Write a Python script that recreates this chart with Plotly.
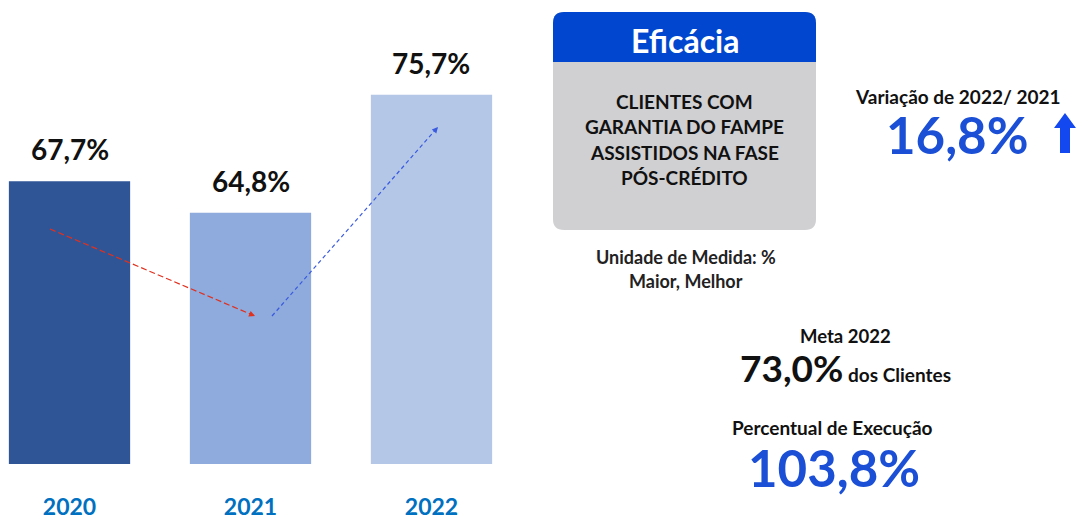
import plotly.graph_objects as go

# ---- data ----
years = ["2020", "2021", "2022"]
values = [67.7, 64.8, 75.7]
value_labels = ["67,7%", "64,8%", "75,7%"]
bar_colors = ["#2F5597", "#8FAADC", "#B4C7E7"]

W, H = 1078, 519
FONT = "Lato"


def px(x):
    return x / W


def py(y):
    return 1 - y / H


fig = go.Figure()
fig.add_trace(go.Bar(
    x=years, y=values, marker=dict(color=bar_colors, line=dict(width=0)),
    width=0.67, hoverinfo="skip", showlegend=False,
))

annotations = []
for i, (v, lab) in enumerate(zip(values, value_labels)):
    annotations.append(dict(
        x=i, y=v, xref="x", yref="y", text=f"<b>{lab}</b>", showarrow=False,
        xanchor="center", yanchor="bottom", yshift=13,
        font=dict(family=FONT, size=28, color="#111111"),
    ))

shapes = []
# rounded box (gray body + blue header)
x0, x1, y0, y1, yh, r = 553, 816, 12, 230, 62, 11


def P(x, y):
    return f"{px(x):.5f},{py(y):.5f}"


body = (f"M {P(x0 + r, y0)} L {P(x1 - r, y0)} Q {P(x1, y0)} {P(x1, y0 + r)} "
        f"L {P(x1, y1 - r)} Q {P(x1, y1)} {P(x1 - r, y1)} L {P(x0 + r, y1)} "
        f"Q {P(x0, y1)} {P(x0, y1 - r)} L {P(x0, y0 + r)} Q {P(x0, y0)} {P(x0 + r, y0)} Z")
shapes.append(dict(type="path", path=body, xref="paper", yref="paper",
                   fillcolor="#D0CFD1", line=dict(width=0), layer="below"))
head = (f"M {P(x0 + r, y0)} L {P(x1 - r, y0)} Q {P(x1, y0)} {P(x1, y0 + r)} "
        f"L {P(x1, yh)} L {P(x0, yh)} L {P(x0, y0 + r)} Q {P(x0, y0)} {P(x0 + r, y0)} Z")
shapes.append(dict(type="path", path=head, xref="paper", yref="paper",
                   fillcolor="#0046CF", line=dict(width=0), layer="below"))

# up arrow
arrow = (f"M {P(1060, 153)} L {P(1060, 128)} L {P(1054, 128)} L {P(1065, 113)} "
         f"L {P(1076, 128)} L {P(1070, 128)} L {P(1070, 153)} Z")
shapes.append(dict(type="path", path=arrow, xref="paper", yref="paper",
                   fillcolor="#1347F0", line=dict(width=0)))

# dashed trend arrows
trend = [((50, 229), (255, 316), "#E0301E", "6px,3px"),
         ((272, 316), (438, 127), "#3A5BE0", "4px,3px")]
for (tx, ty), (hx, hy), col, dash in trend:
    dx, dy = hx - tx, hy - ty
    L = (dx ** 2 + dy ** 2) ** 0.5
    ux, uy = dx / L, dy / L
    shapes.append(dict(type="line", xref="paper", yref="paper",
                       x0=px(tx), y0=py(ty), x1=px(hx - ux * 5), y1=py(hy - uy * 5),
                       line=dict(color=col, width=1.2, dash=dash)))
    annotations.append(dict(x=px(hx), y=py(hy), xref="paper", yref="paper",
                            ax=-ux * 7, ay=-uy * 7, text="", showarrow=True,
                            arrowhead=2, arrowsize=1, arrowwidth=1.2,
                            arrowcolor=col, standoff=0))


def txt(x, y, text, size, color="#1A1A1A", bold=True):
    annotations.append(dict(x=px(x), y=py(y), xref="paper", yref="paper",
                            text=f"<b>{text}</b>" if bold else text, showarrow=False,
                            xanchor="center", yanchor="middle",
                            font=dict(family=FONT, size=size, color=color)))


txt(685, 40, "Eficácia", 32, "#FFFFFF")
body_lines = ["CLIENTES COM", "GARANTIA DO FAMPE", "ASSISTIDOS NA FASE", "PÓS-CRÉDITO"]
for i, line in enumerate(body_lines):
    txt(684, 101 + i * 25.5, line, 19, "#111111")
txt(686, 257, "Unidade de Medida: %", 18, "#222222")
txt(686, 281, "Maior, Melhor", 18, "#222222")
txt(958, 96, "Variação de 2022/ 2021", 19, "#111111")
txt(957, 135, "16,8%", 51, "#1A4FD6")
txt(845, 336, "Meta 2022", 18.5, "#111111")
annotations.append(dict(x=px(845), y=py(367), xref="paper", yref="paper", showarrow=False,
                        xanchor="center", yanchor="middle",
                        text="<b><span style='font-size:37px'>73,0%</span> dos Clientes</b>",
                        font=dict(family=FONT, size=19, color="#111111")))
txt(832, 427, "Percentual de Execução", 19, "#111111")
txt(834, 467, "103,8%", 51, "#1A4FD6")

fig.update_layout(
    width=W, height=H, margin=dict(l=0, r=0, t=0, b=0),
    paper_bgcolor="white", plot_bgcolor="white",
    bargap=0.33, shapes=shapes, annotations=annotations,
    xaxis=dict(type="category", domain=[0, 520 / W], range=[-0.384, 2.489],
               showgrid=False, showline=False, zeroline=False, ticks="",
               ticklabelstandoff=27, automargin=False,
               tickfont=dict(family=FONT, size=23, color="#0070C0", weight="bold")),
    yaxis=dict(domain=[55 / H, 1 - 60 / H], range=[41.6, 78.9], visible=False,
               automargin=False),
    font=dict(family=FONT),
)

fig.write_html("out.html", config={"displayModeBar": False},
               post_script="document.body.style.margin='0';")
